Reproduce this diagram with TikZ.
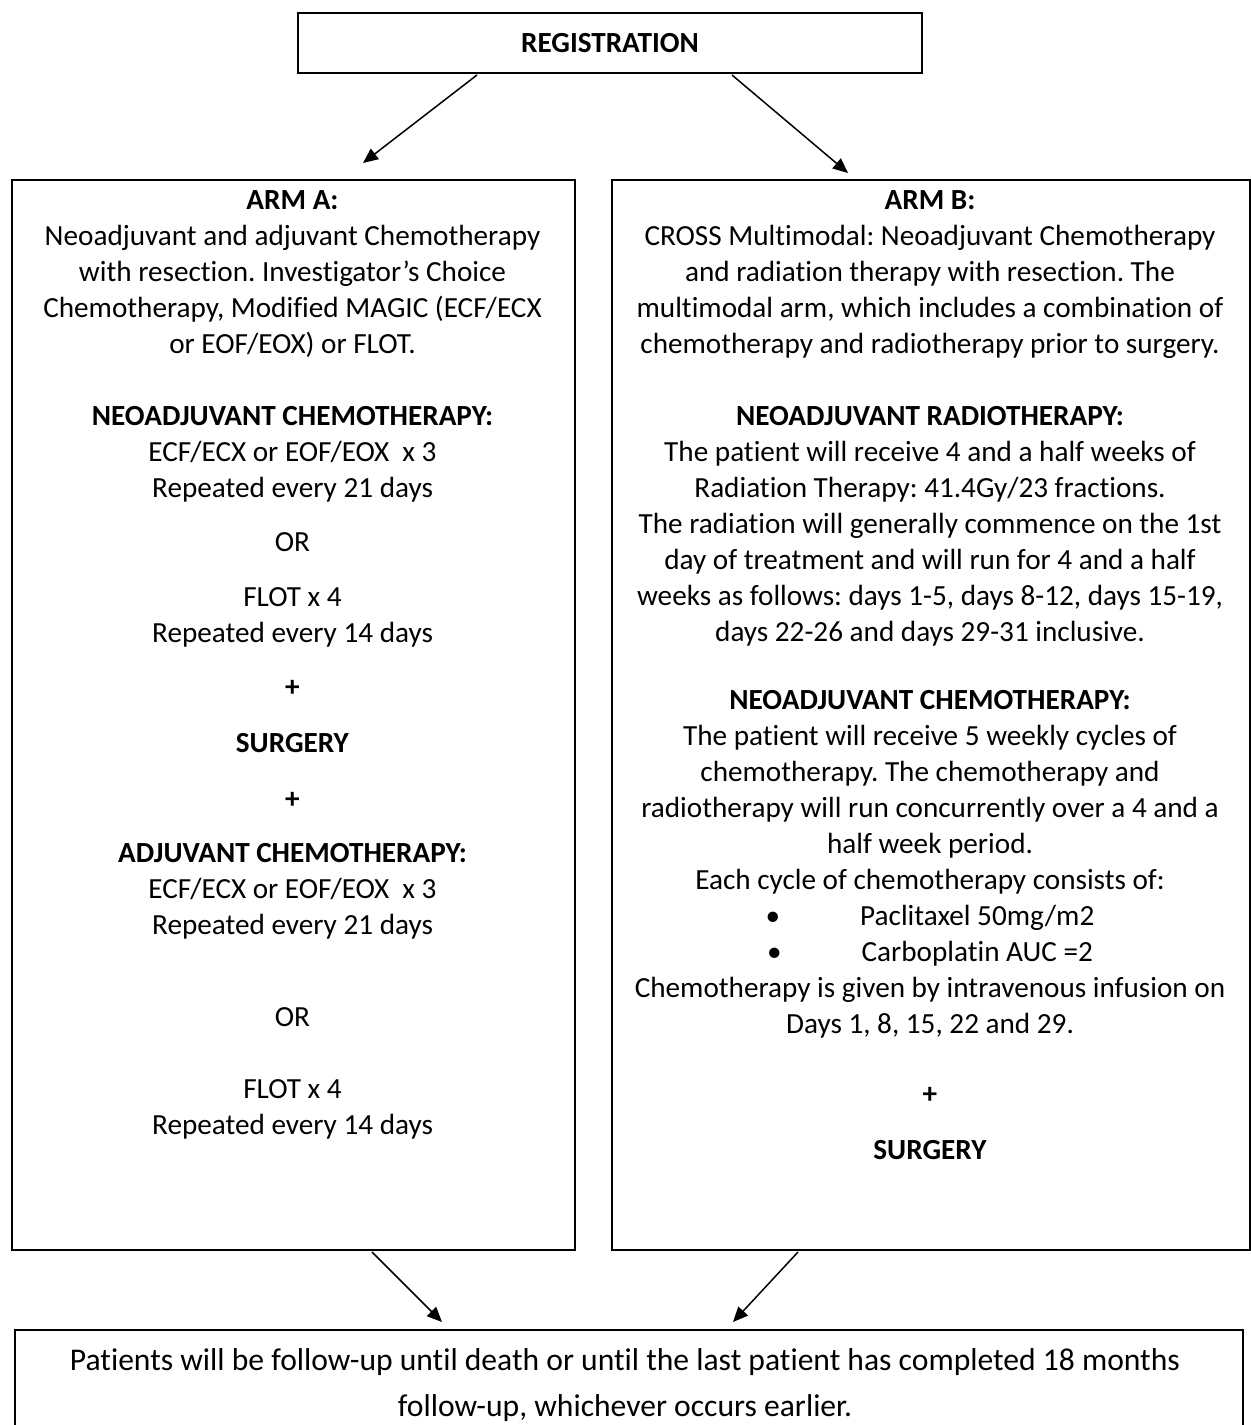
\documentclass[tikz,border=0pt]{standalone}
\usepackage{fontspec}
\setmainfont[Ligatures={TeX,NoCommon}]{Carlito}
\frenchspacing
\usetikzlibrary{arrows.meta}

\begin{document}
\begin{tikzpicture}[x=0.5pt, y=-0.5pt, >={Triangle[length=7.5pt,width=6.5pt]},
  frame/.style={draw, line width=1pt, inner sep=0pt, anchor=north west},
  txt/.style={anchor=north, align=center, inner sep=0pt, font=\fontsize{14.6}{18}\selectfont},
  link/.style={->, line width=0.75pt}]

  \useasboundingbox (0,0) rectangle (1250,1425);

  % Define the boxes
  \node[frame, minimum width=312pt, minimum height=30pt,
        font=\fontsize{14.6}{18}\selectfont\bfseries] (reg) at (297,11.7) {REGISTRATION};
  \node[frame, minimum width=281.5pt, minimum height=535pt] (armA) at (11,179) {};
  \node[frame, minimum width=319pt, minimum height=535pt] (armB) at (611,179) {};
  \node[frame, minimum width=614pt, minimum height=80pt] (fu) at (14,1329) {};

  % Arm A text
  \node[txt] (aHead) at (292.5,184) {\strut\textbf{ARM A:}\\Neoadjuvant and adjuvant Chemotherapy\\
    with resection. Investigator’s Choice\\Chemotherapy, Modified MAGIC (ECF/ECX\\or EOF/EOX) or FLOT.};
  \node[txt] (aNeo) at (292.5,400) {\strut\textbf{NEOADJUVANT CHEMOTHERAPY:}\\
    ECF/ECX or EOF/EOX~ x 3\\Repeated every 21 days};
  \node[txt] (aOr) at (292.5,526) {\strut OR};
  \node[txt] (aFlot) at (292.5,581) {\strut FLOT x 4\\Repeated every 14 days};
  \node[txt] (aPlus) at (292.5,671) {\strut\textbf{+}};
  \node[txt] (aSurg) at (292.5,727) {\strut\textbf{SURGERY}};
  \node[txt] (aPlusb) at (292.5,783) {\strut\textbf{+}};
  \node[txt] (aAdj) at (292.5,837) {\strut\textbf{ADJUVANT CHEMOTHERAPY:}\\
    ECF/ECX or EOF/EOX~ x 3\\Repeated every 21 days};
  \node[txt] (aOrb) at (292.5,1001) {\strut OR};
  \node[txt] (aFlotb) at (292.5,1073) {\strut FLOT x 4\\Repeated every 14 days};

  % Arm B text
  \node[txt] (bHead) at (930,184) {\strut\textbf{ARM B:}\\CROSS Multimodal: Neoadjuvant Chemotherapy\\
    and radiation therapy with resection. The\\multimodal arm, which includes a combination of\\
    chemotherapy and radiotherapy prior to surgery.};
  \node[txt] (bRad) at (930,400) {\strut\textbf{NEOADJUVANT RADIOTHERAPY:}\\
    The patient will receive 4 and a half weeks of\\Radiation Therapy: 41.4Gy/23 fractions.\\
    The radiation will generally commence on the 1st\\day of treatment and will run for 4 and a half\\
    weeks as follows: days 1-5, days 8-12, days 15-19,\\days 22-26 and days 29-31 inclusive.};
  \node[txt] (bChemo) at (930,684) {\strut\textbf{NEOADJUVANT CHEMOTHERAPY:}\\
    The patient will receive 5 weekly cycles of\\chemotherapy. The chemotherapy and\\
    radiotherapy will run concurrently over a 4 and a\\half week period.\\
    Each cycle of chemotherapy consists of:\\
    \textbullet\hspace{40pt}Paclitaxel 50mg/m2\\
    \textbullet\hspace{40pt}Carboplatin AUC =2\\
    Chemotherapy is given by intravenous infusion on\\Days 1, 8, 15, 22 and 29.};
  \node[txt] (bPlus) at (930,1078) {\strut\textbf{+}};
  \node[txt] (bSurg) at (930,1134) {\strut\textbf{SURGERY}};

  % Follow-up text
  \node[txt, font=\fontsize{15.8}{23}\selectfont] (fuText) at (625,1338)
    {\strut Patients will be follow-up until death or until the last patient has completed 18 months\\
    follow-up, whichever occurs earlier.};

  % Arrow ends
  \coordinate (regL) at (477,75);
  \coordinate (armAin) at (363,163);
  \coordinate (regR) at (732,75);
  \coordinate (armBin) at (848,173);
  \coordinate (armAout) at (372,1252);
  \coordinate (fuL) at (442,1322);
  \coordinate (armBout) at (798,1252);
  \coordinate (fuR) at (733,1322);

  % Draw arrows between boxes
  \draw[link] (regL) -- (armAin);
  \draw[link] (regR) -- (armBin);
  \draw[link] (armAout) -- (fuL);
  \draw[link] (armBout) -- (fuR);
\end{tikzpicture}
\end{document}
